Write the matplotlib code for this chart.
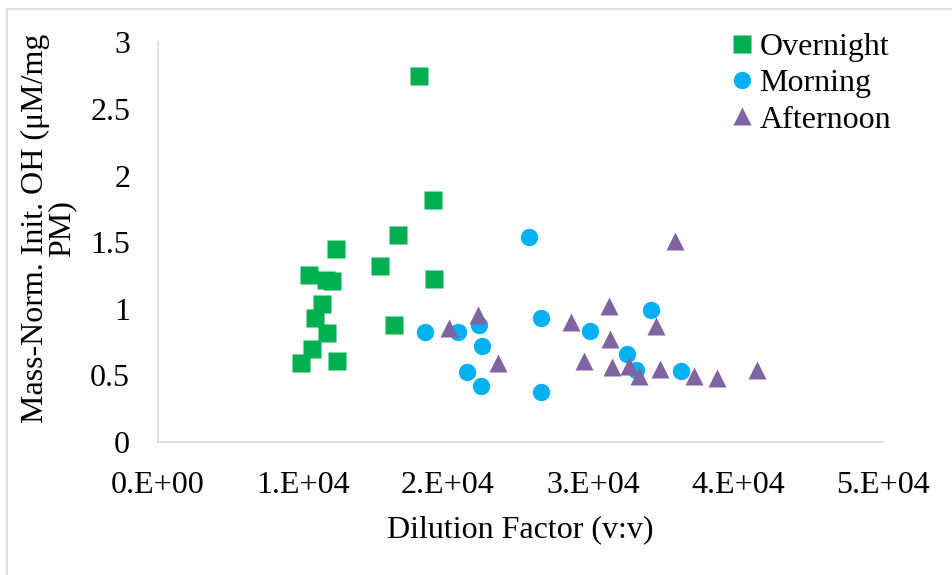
import matplotlib
matplotlib.use('Agg')
import matplotlib.pyplot as plt
from matplotlib.lines import Line2D

# Data
overnight_x = [18020, 18990, 16530, 12250, 15310, 10390, 11590, 11980,
               19060, 11290, 10850, 16300, 11680, 10600, 9880, 12360]
overnight_y = [2.75, 1.815, 1.554, 1.447, 1.324, 1.251, 1.216, 1.209,
               1.224, 1.034, 0.933, 0.881, 0.821, 0.700, 0.591, 0.606]

morning_x = [25610, 18390, 20690, 22140, 22360, 21310, 22270,
             26440, 26420, 29770, 34020, 32360, 32970, 36070]
morning_y = [1.537, 0.826, 0.824, 0.878, 0.723, 0.523, 0.423,
             0.929, 0.378, 0.833, 0.993, 0.661, 0.538, 0.531]

afternoon_x = [35640, 20050, 22050, 23430, 28460, 29380, 31120, 31170,
               31330, 32460, 33150, 34340, 34640, 36960, 38570, 41330]
afternoon_y = [1.507, 0.856, 0.953, 0.591, 0.903, 0.606, 1.021, 0.771,
               0.565, 0.573, 0.495, 0.869, 0.550, 0.498, 0.480, 0.541]

x_ticks = [0, 10000, 20000, 30000, 40000, 50000]
x_tick_labels = ['0.E+00', '1.E+04', '2.E+04', '3.E+04', '4.E+04', '5.E+04']
y_ticks = [0, 0.5, 1, 1.5, 2, 2.5, 3]
y_tick_labels = ['0', '0.5', '1', '1.5', '2', '2.5', '3']

plt.rcParams['font.family'] = ['Liberation Serif', 'DejaVu Serif']
fs = 23
grey = '#D9D9D9'

fig = plt.figure(figsize=(9.52, 5.75), dpi=100)
ax = fig.add_axes([158 / 952, 0.2313, 725 / 952, 0.6951])

ax.plot(overnight_x, overnight_y, 's', ms=12.5, color='#00B050', mec='none', label='Overnight')
ax.plot(morning_x, morning_y, 'o', ms=12.5, color='#00B0F0', mec='none', label='Morning')
ax.plot(afternoon_x, afternoon_y, '^', ms=12.5, color='#8064A2', mec='none', label='Afternoon')

ax.set_xlim(0, 50000)
ax.set_ylim(0, 3)
ax.set_xticks(x_ticks)
ax.set_xticklabels(x_tick_labels)
ax.set_yticks(y_ticks)
ax.set_yticklabels(y_tick_labels)
ax.tick_params(axis='both', length=0, labelsize=fs)
ax.tick_params(axis='x', pad=21)
ax.tick_params(axis='y', pad=20)

for side in ['top', 'right']:
    ax.spines[side].set_visible(False)
for side in ['left', 'bottom']:
    ax.spines[side].set_color(grey)
    ax.spines[side].set_linewidth(1.1)

fig.text(0.546, 0.078, 'Dilution Factor (v:v)', fontsize=fs, ha='center', va='center')
fig.text(0.051, 0.603, 'Mass-Norm. Init. OH (μM/mg\nPM)', fontsize=fs, rotation=90,
         ha='center', va='center', multialignment='center', linespacing=0.85)

ax.legend(loc='upper left', bbox_to_anchor=(732 / 952, 0.9435), bbox_transform=fig.transFigure,
          frameon=False, fontsize=fs, handlelength=0.6, handletextpad=0.26,
          labelspacing=0.22, borderpad=0, borderaxespad=0)

# light grey chart-area border (left and top edges visible)
fig.add_artist(Line2D([7 / 952, 7 / 952], [0, 1 - 9 / 575], color=grey, lw=1.1,
                      transform=fig.transFigure))
fig.add_artist(Line2D([7 / 952, 1], [1 - 9 / 575, 1 - 9 / 575], color=grey, lw=1.1,
                      transform=fig.transFigure))

fig.savefig('out.png', dpi=100)
